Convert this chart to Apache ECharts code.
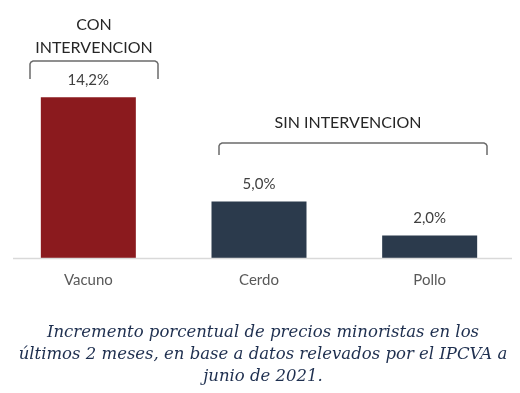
<!DOCTYPE html>
<html>
<head>
<meta charset="utf-8">
<script src="https://cdn.jsdelivr.net/npm/echarts@6/dist/echarts.min.js"></script>
<style>html,body{margin:0;padding:0;background:#fff;}#c{width:520px;height:393px;}</style>
</head>
<body>
<div id="c"></div>
<script>
var categories = ['Vacuno', 'Cerdo', 'Pollo'];
var values = [14.2, 5.0, 2.0];
var barColors = ['#8b1a1e', '#2b3a4c', '#2b3a4c'];
var groupLabels = ['CON\nINTERVENCION', 'SIN INTERVENCION'];
var caption = 'Incremento porcentual de precios minoristas en los\núltimos 2 meses, en base a datos relevados por el IPCVA a\njunio de 2021.';

var chart = echarts.init(document.getElementById('c'), null, {renderer: 'canvas'});
var bracketStyle = {stroke: '#6b6b6b', lineWidth: 1.5, fill: null};
chart.setOption({
  animation: false,
  backgroundColor: '#ffffff',
  grid: {left: 3, right: 5, top: 77, bottom: 135},
  xAxis: {
    type: 'category',
    data: categories,
    axisLine: {show: false},
    axisTick: {show: false},
    axisLabel: {fontFamily: 'Lato', fontSize: 15, color: '#595959', margin: 15}
  },
  yAxis: {
    type: 'value', min: 0, max: 16,
    show: false,
    splitLine: {show: false}
  },
  series: [{
    type: 'bar',
    barWidth: 95,
    data: values.map(function (v, i) { return {value: v, itemStyle: {color: barColors[i]}}; }),
    label: {
      show: true,
      position: 'top',
      distance: 10,
      fontFamily: 'Lato',
      fontSize: 15,
      color: '#404040',
      formatter: function (p) { return p.value.toFixed(1).replace('.', ',') + '%'; }
    }
  }],
  graphic: [
    {type: 'line', shape: {x1: 13, y1: 258.5, x2: 512, y2: 258.5}, style: {stroke: '#d9d9d9', lineWidth: 1.5}, z: 10},
    {type: 'polyline', shape: {points: [[30,79],[30,64],[31,62],[33,61],[155,61],[157,62],[158,64],[158,79]]}, style: bracketStyle},
    {type: 'polyline', shape: {points: [[219,155],[219,146],[220,144],[222,143],[484,143],[486,144],[487,146],[487,155]]}, style: bracketStyle},
    {type: 'text', x: 94, y: 13, style: {text: groupLabels[0], textAlign: 'center', textVerticalAlign: 'top', font: '16px Lato', fill: '#262626', lineHeight: 23}},
    {type: 'text', x: 348, y: 115, style: {text: groupLabels[1], textAlign: 'center', textVerticalAlign: 'top', font: '16px Lato', fill: '#262626'}},
    {type: 'text', x: 263, y: 322, style: {text: caption, textAlign: 'center', textVerticalAlign: 'top', font: 'italic 16.5px "DejaVu Serif"', fill: '#1e2f4f', lineHeight: 22}}
  ]
});
</script>
</body>
</html>
